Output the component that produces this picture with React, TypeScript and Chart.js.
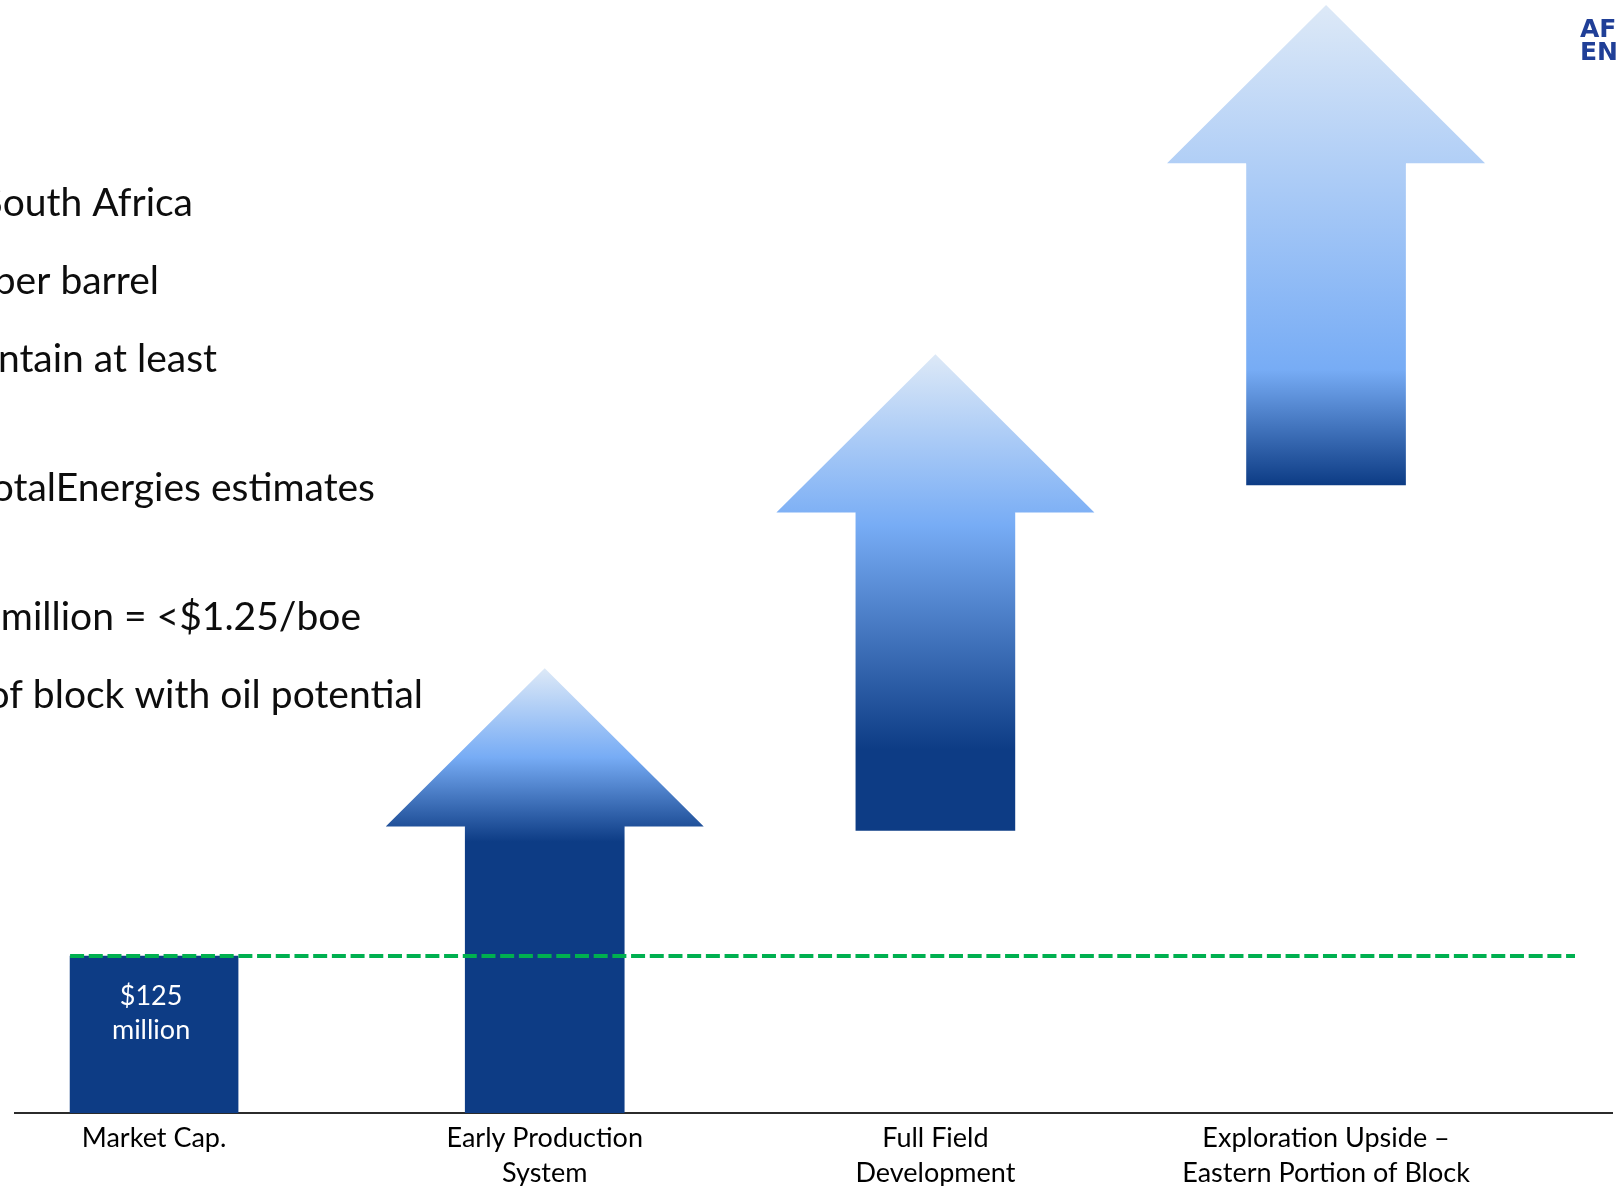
import React, { useEffect, useRef } from "react";
import { Chart, registerables } from "chart.js";

Chart.register(...registerables);

// Categories along the baseline (multi-line labels)
const categories: string[][] = [
  ["Market Cap."],
  ["Early Production", "System"],
  ["Full Field", "Development"],
  ["Exploration Upside –", "Eastern Portion of Block"],
];

// Current market capitalisation, $ million
const marketCap = 125;

// Value-step arrows on the same $ million scale:
// where each arrow starts, where its shaft ends and where its tip is
const stepStart = [0, 225, 500];
const stepShaftEnd = [228, 478, 756];
const stepTip = [354, 604, 882];

// Bullet text running in from the left of the slide
const bulletLines = [
  "South Africa",
  "per barrel",
  "contain at least",
  "TotalEnergies estimates",
  "million = <$1.25/boe",
  "of block with oil potential",
];

// Company wordmark, top right
const logoLines = ["AFRICA", "ENERGY"];

// ---- styles ----
const DARK = "#0d3c85";
const LIGHT = "#dde9f7";
const MID = "#77acf5";
const GREEN = "#00b050";
const FONT = "Lato";
const HEAD_RATIO = 2; // arrow head width relative to shaft width

const arrowStops: [number, string][][] = [
  [[0, LIGHT], [0.2, MID], [0.39, DARK], [1, DARK]],
  [[0, LIGHT], [0.36, MID], [0.83, DARK], [1, DARK]],
  [[0, LIGHT], [0.76, MID], [1, DARK]],
];

// right edge and vertical centre of each bullet line
const bulletPos: [number, number][] = [
  [193, 203],
  [159, 281],
  [217, 359],
  [375, 488],
  [361, 617],
  [423, 695],
];

function arrowFill(chart: any, i: number) {
  const y = chart.scales && chart.scales.y;
  if (!y || i == null || i < 0 || i >= stepTip.length) return DARK;
  const top = y.getPixelForValue(stepTip[i]);
  const bottom = y.getPixelForValue(stepStart[i]);
  if (!Number.isFinite(top) || !Number.isFinite(bottom) || top === bottom) return DARK;
  const g = chart.ctx.createLinearGradient(0, top, 0, bottom);
  arrowStops[i].forEach(([o, c]) => g.addColorStop(o, c));
  return g;
}

const slideDecor = {
  id: "slideDecor",
  afterDatasetsDraw(chart: any) {
    const { ctx, chartArea } = chart;
    const y = chart.scales.y;

    // arrow heads on top of the shafts
    const meta = chart.getDatasetMeta(1);
    meta.data.forEach((el: any, i: number) => {
      const { x, width } = el.getProps(["x", "width"], true);
      const baseY = y.getPixelForValue(stepShaftEnd[i]);
      const tipY = y.getPixelForValue(stepTip[i]);
      const half = (width * HEAD_RATIO) / 2;
      ctx.save();
      ctx.fillStyle = arrowFill(chart, i);
      ctx.beginPath();
      ctx.moveTo(x - half, baseY);
      ctx.lineTo(x, tipY);
      ctx.lineTo(x + half, baseY);
      ctx.lineTo(x + width / 2, baseY);
      ctx.lineTo(x + width / 2, baseY + 1);
      ctx.lineTo(x - width / 2, baseY + 1);
      ctx.lineTo(x - width / 2, baseY);
      ctx.closePath();
      ctx.fill();
      ctx.restore();
    });

    // dashed reference line at the market-cap level
    const cap = chart.getDatasetMeta(0).data[0];
    const { x: cx, width: cw } = cap.getProps(["x", "width"], true);
    const capY = y.getPixelForValue(marketCap);
    ctx.save();
    ctx.strokeStyle = GREEN;
    ctx.lineWidth = 4;
    ctx.setLineDash([14, 4.7]);
    ctx.beginPath();
    ctx.moveTo(cx - cw / 2, capY);
    ctx.lineTo(chartArea.right - 37, capY);
    ctx.stroke();
    ctx.restore();

    // value label inside the market-cap bar
    ctx.save();
    ctx.fillStyle = "#ffffff";
    ctx.font = `27px ${FONT}`;
    ctx.textAlign = "center";
    ctx.textBaseline = "middle";
    ctx.fillText(`$${marketCap}`, cx - 3, capY + 40);
    ctx.fillText("million", cx - 3, capY + 74);
    ctx.restore();
  },
  afterDraw(chart: any) {
    const { ctx } = chart;
    // bullet text
    ctx.save();
    ctx.fillStyle = "#0d0d0d";
    ctx.font = `39px ${FONT}`;
    ctx.textAlign = "right";
    ctx.textBaseline = "middle";
    bulletLines.forEach((t, i) => {
      const [rx, cy] = bulletPos[i];
      ctx.fillText(t, rx, cy);
    });
    ctx.restore();

    // wordmark
    ctx.save();
    ctx.fillStyle = "#203f97";
    ctx.font = `bold 25px "DejaVu Sans"`;
    ctx.textAlign = "left";
    ctx.textBaseline = "alphabetic";
    ctx.fillText(logoLines[0], 1580, 37);
    ctx.fillText(logoLines[1], 1580, 60);
    ctx.restore();
  },
};

export default function App() {
  const ref = useRef<HTMLCanvasElement>(null);

  useEffect(() => {
    if (!ref.current) return;
    const chart = new Chart(ref.current, {
      type: "bar",
      data: {
        datasets: [
          {
            label: "Market Cap.",
            data: [{ x: 0, y: [0, marketCap] }] as any,
            backgroundColor: DARK,
            barThickness: 168,
            grouped: false,
          } as any,
          {
            label: "Value steps",
            data: stepStart.map((s, i) => ({ x: i + 1, y: [s, stepShaftEnd[i]] })) as any,
            backgroundColor: (c: any) =>
              c.type === "data" ? arrowFill(c.chart, c.dataIndex) : DARK,
            barThickness: 159,
            grouped: false,
          } as any,
        ],
      },
      options: {
        responsive: false,
        animation: false,
        layout: { padding: { left: 15, right: 5, top: 0, bottom: 0 } },
        plugins: {
          legend: { display: false },
          tooltip: { enabled: false },
        },
        scales: {
          x: {
            type: "linear",
            min: -0.356,
            max: 3.732,
            offset: false,
            grid: { display: false, drawTicks: false },
            border: { display: true, color: "#2b2b2b", width: 2 },
            afterBuildTicks: (s: any) => {
              s.ticks = categories.map((_, i) => ({ value: i }));
            },
            ticks: {
              autoSkip: false,
              maxRotation: 0,
              padding: 8,
              color: "#000000",
              font: { family: FONT, size: 27, lineHeight: "35px" } as any,
              callback: (v: any) => categories[v as number],
            },
          },
          y: { type: "linear", display: false, min: 0, max: 886 },
        },
      } as any,
      plugins: [slideDecor],
    });
    return () => chart.destroy();
  }, []);

  return (
    <div
      style={{
        position: "absolute",
        left: 0,
        top: 0,
        width: 1617,
        height: 1186,
        overflow: "hidden",
        background: "#ffffff",
      }}
    >
      <canvas ref={ref} width={1617} height={1199} style={{ display: "block" }} />
    </div>
  );
}
